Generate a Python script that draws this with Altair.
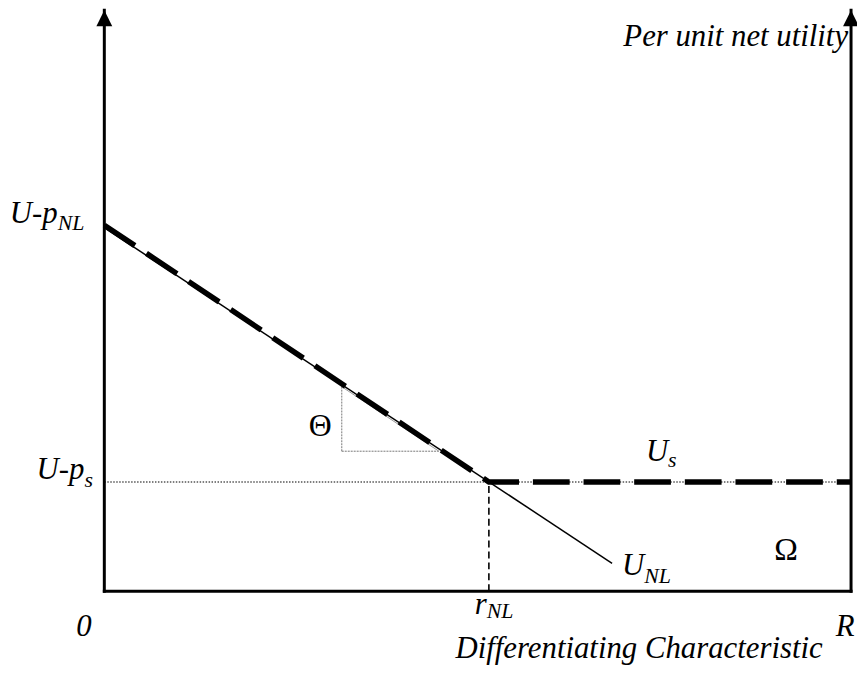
import altair as alt
import pandas as pd

# ---- Values (x: 0..R = 0..100, y: 0..100) ----
R_MAX = 100
U_P_NL = 62.6      # intercept U - p_NL
U_P_S = 18.8       # level U - p_s
R_NL = 51.5        # kink r_NL

unl_x = [0, 68.0]            # U_NL line
unl_y = [62.6, 4.8]
env_x = [0, 51.5, 100]       # thick dashed upper envelope
env_y = [63.0, 18.8, 18.8]
tri_x = [31.8, 31.8, 44.8]   # Theta triangle corners
tri_y = [35.2, 24.1, 24.1]

# ---- Annotation text ----
main_text = ["U-p", "U-p", "r", "U", "U", "Per unit net utility",
             "Differentiating Characteristic"]
main_x = [-6.25, -2.66, 51.2, 75.5, 72.3, 99.6, 96.2]
main_y = [63.4, 19.3, -3.85, 22.4, 2.74, 93.85, -11.45]
sub_text = ["NL", "s", "NL", "s", "NL"]
sub_x = [-6.25, -2.66, 51.2, 75.5, 72.3]
sub_y = [62.2, 17.9, -4.6, 21.4, 1.37]
end_text = ["0", "R"]
end_x = [-2.73, 99.2]
end_y = [-7.7, -7.7]
greek_text = ["Ω", "Θ"]
greek_x = [91.3, 28.9]
greek_y = [5.3, 26.7]

FONT = "Times New Roman, Liberation Serif, DejaVu Serif, serif"
xs = alt.Scale(domain=[0, R_MAX], nice=False, zero=False)
ys = alt.Scale(domain=[0, 100], nice=False, zero=False)


def X(f="x"):
    return alt.X(f"{f}:Q", scale=xs, axis=None)


def Y(f="y"):
    return alt.Y(f"{f}:Q", scale=ys, axis=None)


# axes as rules
axes_v = pd.DataFrame({"x": [0, R_MAX], "y": [0, 0], "y2": [100, 100]})
axes_h = pd.DataFrame({"x": [0], "x2": [R_MAX], "y": [0]})
arrows = pd.DataFrame({"x": [0, R_MAX], "y": [100, 100]})

v_axes = alt.Chart(axes_v).mark_rule(color="black", strokeWidth=3, strokeCap="square").encode(
    x=X(), y=Y(), y2="y2:Q")
h_axis = alt.Chart(axes_h).mark_rule(color="black", strokeWidth=3, strokeCap="square").encode(
    x=X(), x2="x2:Q", y=Y())
arrow_heads = alt.Chart(arrows).mark_point(
    shape="M0,0L-1,2L1,2Z", size=256, filled=True, color="black", opacity=1, strokeWidth=0
).encode(x=X(), y=Y())

# dotted level U - p_s across the whole width
dotted = alt.Chart(pd.DataFrame({"x": [0], "x2": [R_MAX], "y": [U_P_S]})).mark_rule(
    color="black", strokeWidth=1.2, strokeDash=[1.5, 1.5]).encode(x=X(), x2="x2:Q", y=Y())
# dashed vertical at r_NL
vdash = alt.Chart(pd.DataFrame({"x": [R_NL], "y": [0], "y2": [U_P_S]})).mark_rule(
    color="black", strokeWidth=1.6, strokeDash=[7, 4]).encode(x=X(), y=Y(), y2="y2:Q")

# triangle legs and hypotenuse
tri_v = alt.Chart(pd.DataFrame({"x": [tri_x[0]], "y": [tri_y[1]], "y2": [tri_y[0]]})).mark_rule(
    color="#777777", strokeWidth=1, strokeDash=[2, 1]).encode(x=X(), y=Y(), y2="y2:Q")
tri_h = alt.Chart(pd.DataFrame({"x": [tri_x[1]], "x2": [tri_x[2]], "y": [tri_y[1]]})).mark_rule(
    color="#777777", strokeWidth=1, strokeDash=[2, 1]).encode(x=X(), x2="x2:Q", y=Y())
tri_hyp = alt.Chart(pd.DataFrame({"x": [tri_x[0]], "x2": [tri_x[2]], "y": [tri_y[0]], "y2": [tri_y[2]]})).mark_rule(
    color="#999999", strokeWidth=1).encode(x=X(), x2="x2:Q", y=Y(), y2="y2:Q")

unl = alt.Chart(pd.DataFrame({"x": unl_x, "y": unl_y})).mark_line(
    color="black", strokeWidth=1.5).encode(x=X(), y=Y())
env = alt.Chart(pd.DataFrame({"x": env_x, "y": env_y, "o": [0, 1, 2]})).mark_line(
    color="black", strokeWidth=5.5, strokeDash=[37, 14], strokeCap="butt").encode(
    x=X(), y=Y(), order="o:Q")

main_lbl = alt.Chart(pd.DataFrame({"x": main_x, "y": main_y, "t": main_text})).mark_text(
    font=FONT, fontSize=31, fontStyle="italic", align="right", baseline="alphabetic", color="black"
).encode(x=X(), y=Y(), text="t:N")
sub_lbl = alt.Chart(pd.DataFrame({"x": sub_x, "y": sub_y, "t": sub_text})).mark_text(
    font=FONT, fontSize=22, fontStyle="italic", align="left", baseline="alphabetic", color="black"
).encode(x=X(), y=Y(), text="t:N")
end_lbl = alt.Chart(pd.DataFrame({"x": end_x, "y": end_y, "t": end_text})).mark_text(
    font=FONT, fontSize=31, fontStyle="italic", align="center", baseline="alphabetic", color="black"
).encode(x=X(), y=Y(), text="t:N")
greek_lbl = alt.Chart(pd.DataFrame({"x": greek_x, "y": greek_y, "t": greek_text})).mark_text(
    font=FONT, fontSize=32, align="center", baseline="alphabetic", color="black"
).encode(x=X(), y=Y(), text="t:N")

chart = alt.layer(
    dotted, vdash, tri_v, tri_h, tri_hyp, unl, env, v_axes, h_axis, arrow_heads,
    main_lbl, sub_lbl, end_lbl, greek_lbl
).properties(
    width=752, height=585,
    padding={"left": 97, "top": 0, "right": 6, "bottom": 74},
    autosize=alt.AutoSizeParams(type="none"),
).configure_view(stroke=None)

chart.save("out.html", embed_options={"renderer": "svg", "actions": False})
